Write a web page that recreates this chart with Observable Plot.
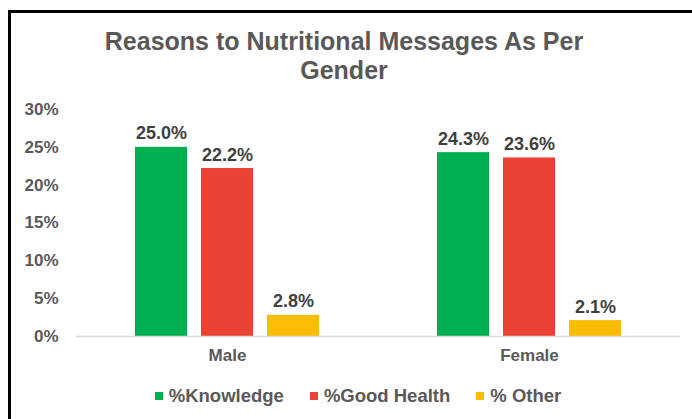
<!DOCTYPE html>
<html>
<head>
<meta charset="utf-8">
<script src="https://cdn.jsdelivr.net/npm/d3@7"></script>
<script src="https://cdn.jsdelivr.net/npm/@observablehq/plot@0.6"></script>
<style>
  html, body { margin: 0; padding: 0; background: #fff; width: 692px; height: 419px; overflow: hidden; }
  body { position: relative; font-family: "Liberation Sans", Arial, sans-serif; }
  #frame { position: absolute; left: 8px; top: 10px; width: 700px; height: 430px; border-left: 3px solid #000; border-top: 3px solid #000; box-sizing: border-box; }
  #title { position: absolute; left: 0; top: 27px; width: 688px; text-align: center; font-weight: bold; font-size: 25px; line-height: 29px; color: #595959; }
  #chart { position: absolute; left: 0; top: 95px; }
  #legend { position: absolute; left: 0; top: 385px; width: 716px; display: flex; justify-content: center; gap: 26px; font-weight: bold; font-size: 18.5px; line-height: 22px; color: #595959; }
  #legend span.item { display: flex; align-items: center; }
  #legend span.sw { display: inline-block; width: 8px; height: 8px; margin-right: 6px; }
</style>
</head>
<body>
<div id="frame"></div>
<div id="title">Reasons to Nutritional Messages As Per<br>Gender</div>
<div id="chart"></div>
<div id="legend"></div>
<script>
const genders = ["Male", "Female"];
const reasons = ["%Knowledge", "%Good Health", "% Other"];
const knowledge = [25.0, 24.3];
const goodHealth = [22.2, 23.6];
const other = [2.8, 2.1];
const colors = ["#00b050", "#ea4335", "#fbbc04"];
const yTicks = [0, 5, 10, 15, 20, 25, 30];

const series = [knowledge, goodHealth, other];
const data = [];
genders.forEach((g, gi) => {
  reasons.forEach((r, ri) => {
    data.push({gender: g, reason: r, value: series[ri][gi]});
  });
});

const chart = Plot.plot({
  width: 692,
  height: 275,
  marginTop: 14,
  marginBottom: 34,
  marginLeft: 75,
  marginRight: 12,
  style: {fontFamily: "Liberation Sans, Arial, sans-serif", fontWeight: "bold", fontSize: "17px", color: "#595959", background: "transparent"},
  fx: {domain: genders, paddingInner: 0, paddingOuter: 0, axis: "bottom", label: null, tickSize: 0, tickPadding: 12},
  x: {domain: reasons, paddingInner: 0.21, paddingOuter: 0.86, axis: null},
  y: {domain: [0, 30], ticks: yTicks, tickFormat: d => d + "%", tickSize: 0, tickPadding: 18, label: null},
  color: {domain: reasons, range: colors},
  marks: [
    Plot.barY(data, {fx: "gender", x: "reason", y: "value", fill: "reason"}),
    Plot.ruleY([0], {stroke: "#d9d9d9", strokeWidth: 1.5}),
    Plot.text(data, {fx: "gender", x: "reason", y: "value", text: d => d.value.toFixed(1) + "%", lineAnchor: "bottom", dy: -8, fill: "#404040", fontSize: 18, fontWeight: "bold"})
  ]
});
document.getElementById("chart").appendChild(chart);

const legend = document.getElementById("legend");
reasons.forEach((r, i) => {
  const item = document.createElement("span");
  item.className = "item";
  const sw = document.createElement("span");
  sw.className = "sw";
  sw.style.background = colors[i];
  item.appendChild(sw);
  item.appendChild(document.createTextNode(r));
  legend.appendChild(item);
});
</script>
</body>
</html>
